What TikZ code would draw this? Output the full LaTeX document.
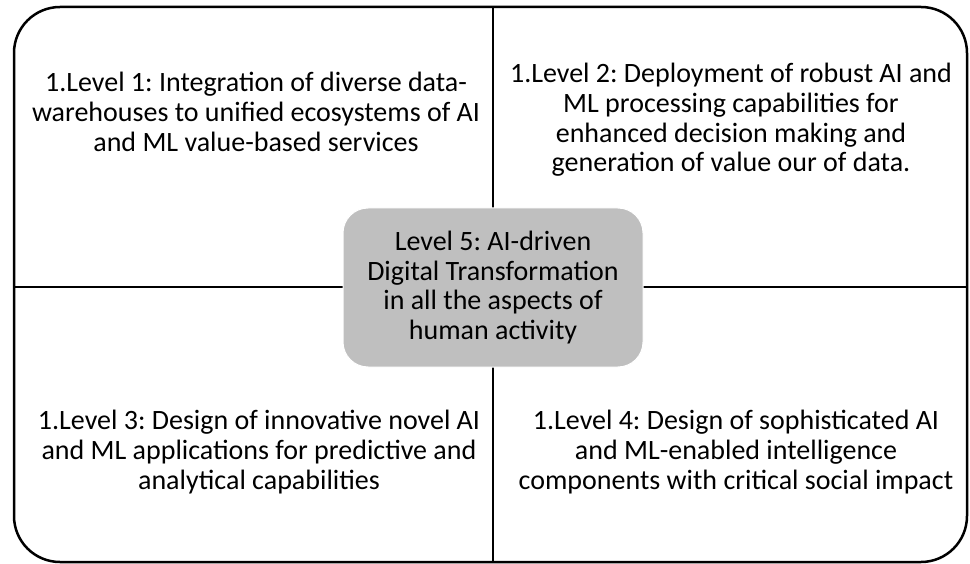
\documentclass[tikz,border=0pt]{standalone}
\usepackage{fontspec}
\setmainfont{Carlito}
\usepackage{tikz}
\definecolor{corefill}{RGB}{191,191,191}
\usetikzlibrary{positioning}
\frenchspacing

\begin{document}
\begin{tikzpicture}[
            x=1pt, y=-1pt,
                base/.style = {rectangle, inner sep=0pt, text centered,
                            align=center, font=\fontsize{28}{29.7}\selectfont},
                frame/.style = {rectangle, rounded corners=46pt, draw=black,
                            line width=2.5pt, minimum width=953pt, minimum height=555pt},
                levelcode/.style = {base},
                corebox/.style = {base, rounded corners=25pt, fill=corefill,
                            draw=white, line width=1pt,
                            minimum width=300pt, minimum height=159pt},
                divider/.style = {draw=black, line width=2.2pt}]
            \useasboundingbox (0,0) rectangle (970,564);
            \node (Frame) [frame] at (490.5,284.5) {};
            \coordinate (DividerTop) at (493,7);
            \coordinate (DividerBottom) at (493,562);
            \coordinate (DividerLeft) at (14,287);
            \coordinate (DividerRight) at (967,287);
            \draw[divider] (DividerTop) -- (DividerBottom);
            \draw[divider] (DividerLeft) -- (DividerRight);
            \node (Core) [corebox] at (493,287.5) {
                Level 5: AI-driven\\Digital Transformation\\in all the aspects of\\human activity
            };
            \node (LevelOne) [levelcode, xshift=-237pt, yshift=175.5pt] at (Core) {
                1.Level 1: Integration of diverse data-\\warehouses to unified ecosystems of AI\\and ML value-based services
            };
            \node (LevelTwo) [levelcode, xshift=238pt, yshift=167.5pt] at (Core) {
                1.Level 2: Deployment of robust AI and\\ML processing capabilities for\\enhanced decision making and\\generation of value our of data.
            };
            \node (LevelThree) [levelcode, xshift=-234pt, yshift=-164.5pt] at (Core) {
                1.Level 3: Design of innovative novel AI\\and ML applications for predictive and\\analytical capabilities
            };
            \node (LevelFour) [levelcode, xshift=243pt, yshift=-164.5pt] at (Core) {
                1.Level 4: Design of sophisticated AI\\and ML-enabled intelligence\\components with critical social impact
            };
        \end{tikzpicture}
\end{document}
